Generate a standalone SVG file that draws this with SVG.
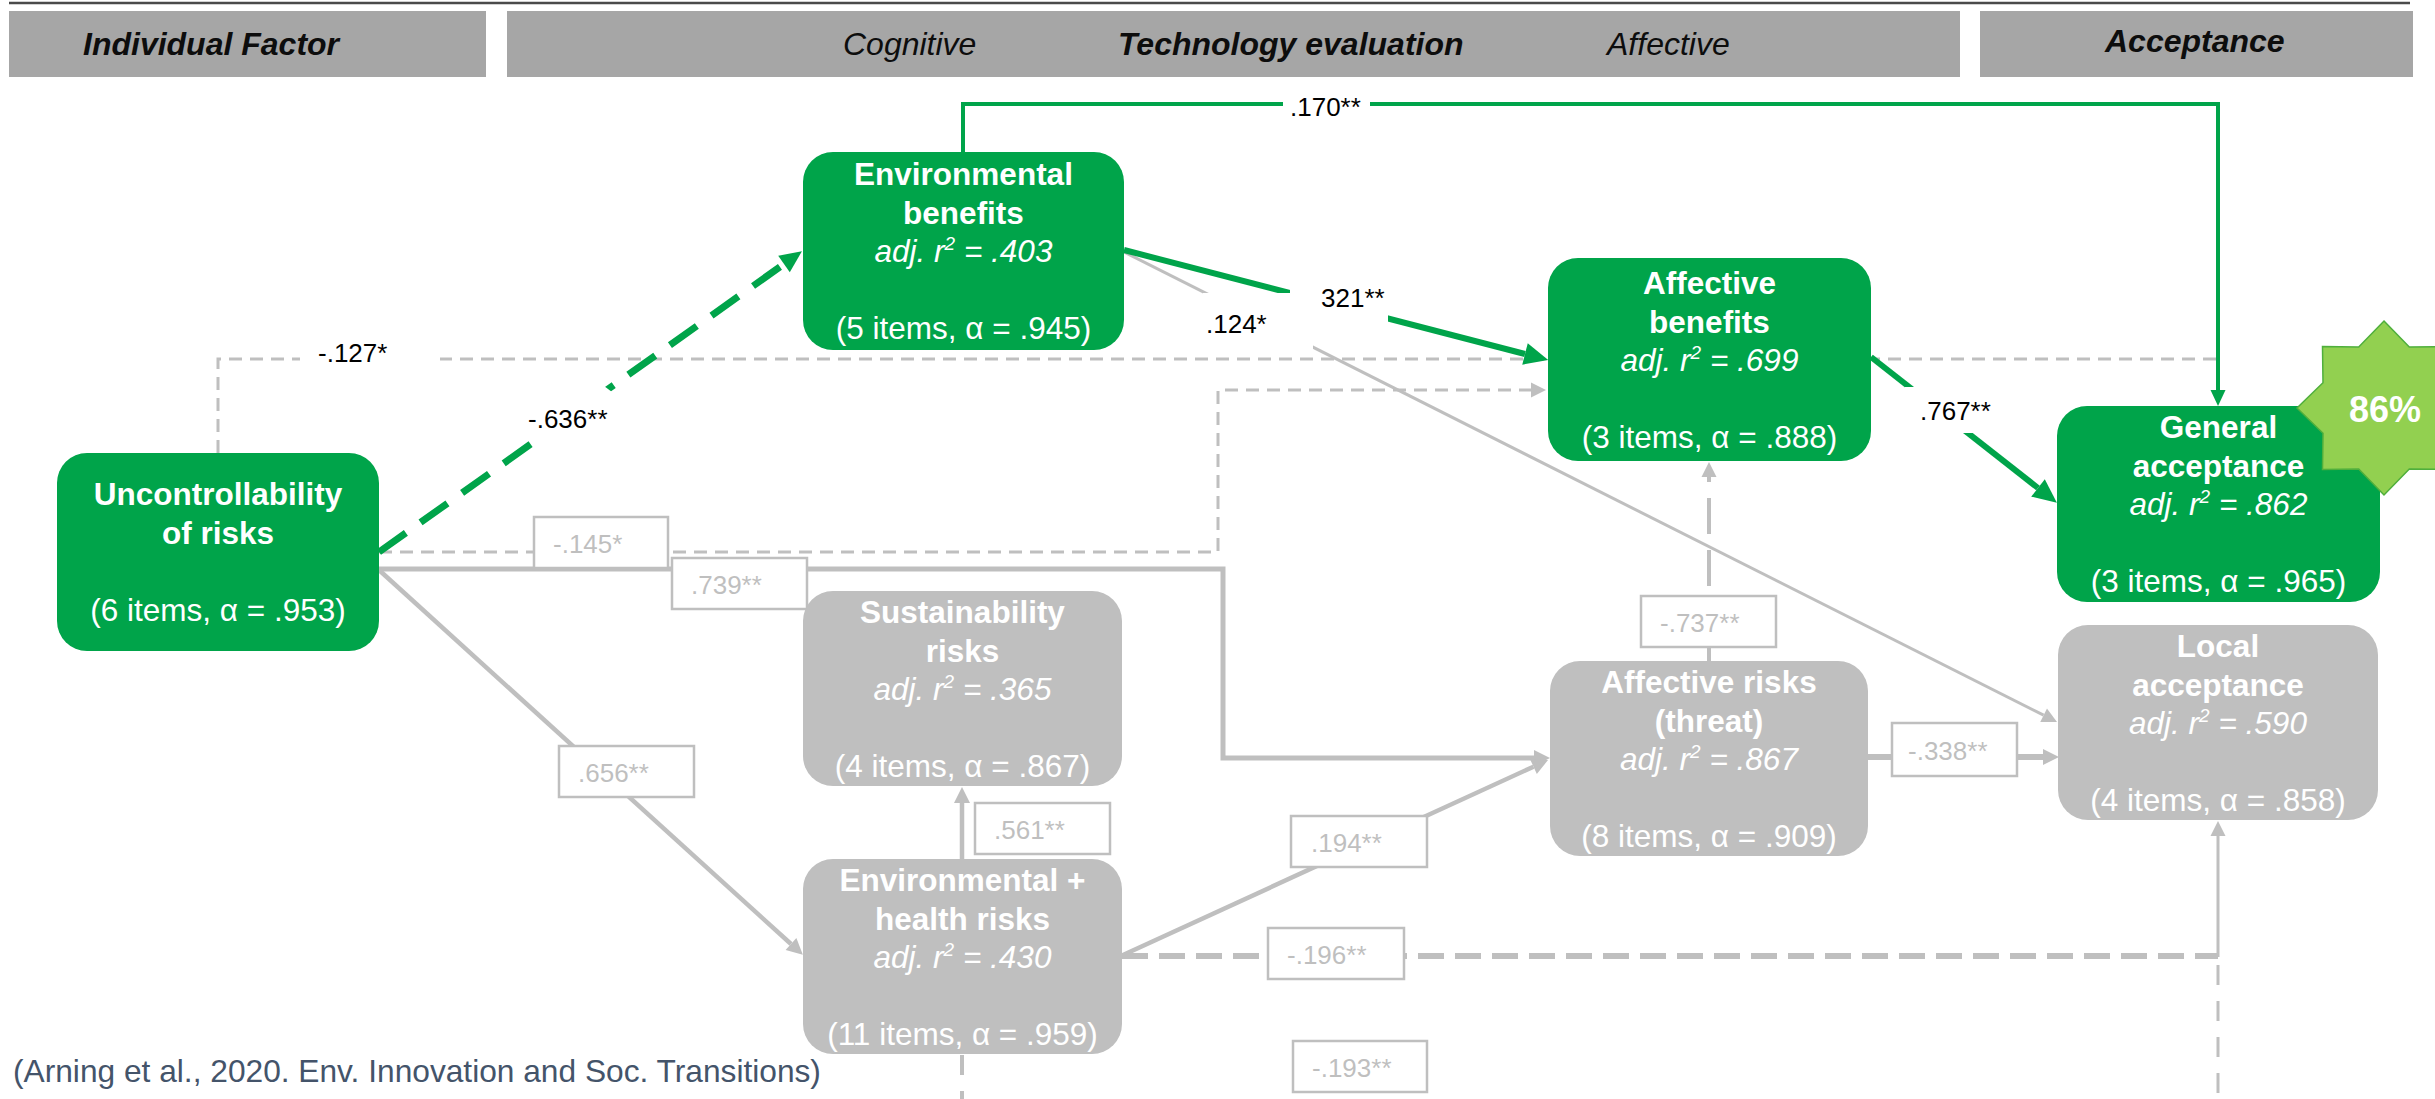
<svg xmlns="http://www.w3.org/2000/svg" width="2435" height="1099" viewBox="0 0 2435 1099">
<defs>
  <style>
    text { font-family: "Liberation Sans", Arial, sans-serif; }
    .bar { fill: #A6A6A6; }
    .ht { font-size: 32px; fill: #0D0D0D; font-style: italic; }
    .b { font-weight: bold; }
    .ng { fill: #00A44A; }
    .nx { fill: #BFBFBF; }
    .nt { font-size: 31.5px; fill: #FFFFFF; text-anchor: middle; }
    .t { font-weight: bold; }
    .r { font-style: italic; }
    .sup { font-size: 19px; }
    .lbl { font-size: 26px; fill: #000000; }
    .lbox { fill: #FFFFFF; stroke: #BFBFBF; stroke-width: 2.5; }
    .ltx { font-size: 26px; fill: #BFBFBF; }
    .cg { stroke: #00A44A; fill: none; }
    .cx { stroke: #BFBFBF; fill: none; }
    .gap { fill: #FFFFFF; }
  </style>
  <marker id="ahG" markerUnits="userSpaceOnUse" markerWidth="24" markerHeight="22" refX="0" refY="11" orient="auto" overflow="visible">
    <path d="M0,0 L24,11 L0,22 z" fill="#00A44A"/>
  </marker>
  <marker id="ahGd" markerUnits="userSpaceOnUse" markerWidth="22" markerHeight="20" refX="0" refY="10" orient="auto" overflow="visible">
    <path d="M0,0 L22,10 L0,20 z" fill="#00A44A"/>
  </marker>
  <marker id="ahGs" markerUnits="userSpaceOnUse" markerWidth="16" markerHeight="15" refX="0" refY="7.5" orient="auto" overflow="visible">
    <path d="M0,0 L16,7.5 L0,15 z" fill="#00A44A"/>
  </marker>
  <marker id="ahX" markerUnits="userSpaceOnUse" markerWidth="15" markerHeight="15" refX="0" refY="7.5" orient="auto" overflow="visible">
    <path d="M0,0 L15,7.5 L0,15 z" fill="#BFBFBF"/>
  </marker>
  <marker id="ahXb" markerUnits="userSpaceOnUse" markerWidth="16" markerHeight="16" refX="0" refY="8" orient="auto" overflow="visible">
    <path d="M0,0 L16,8 L0,16 z" fill="#BFBFBF"/>
  </marker>
</defs>

<rect x="0" y="0" width="2435" height="1099" fill="#FFFFFF"/>

<!-- header rule and column headers -->
<g id="header">
  <line x1="9" y1="3" x2="2410" y2="3" stroke="#4A4A4A" stroke-width="2.5"/>
  <rect class="bar" x="9" y="11" width="477" height="66"/>
  <rect class="bar" x="507" y="11" width="1453" height="66"/>
  <rect class="bar" x="1980" y="11" width="433" height="66"/>
  <text class="ht b" x="83" y="55">Individual Factor</text>
  <text class="ht" x="843" y="55">Cognitive</text>
  <text class="ht b" x="1118" y="55">Technology evaluation</text>
  <text class="ht" x="1607" y="55">Affective</text>
  <text class="ht b" x="2105" y="52">Acceptance</text>
</g>

<!-- paths between constructs -->
<g id="connectors">
  <!-- Uncontrollability -> General acceptance (-.127*) -->
  <path class="cx" d="M218,453 V359 H2218" stroke-width="3" stroke-dasharray="13 8"/>
  <!-- Uncontrollability -> Affective benefits (-.145*) -->
  <path class="cx" d="M379,552 H1218 V390 H1531" stroke-width="3" stroke-dasharray="13 8" marker-end="url(#ahX)"/>
  <!-- Uncontrollability -> Affective risks (.739**) -->
  <path class="cx" d="M379,569 H1223 V758 H1534" stroke-width="5" marker-end="url(#ahXb)"/>
  <!-- Uncontrollability -> Environmental + health risks (.656**) -->
  <path class="cx" d="M379,570 L791,944" stroke-width="4.5" marker-end="url(#ahXb)"/>
  <!-- Environmental + health risks -> Sustainability risks (.561**) -->
  <path class="cx" d="M962,859 V803" stroke-width="4.5" marker-end="url(#ahXb)"/>
  <!-- Environmental + health risks -> Affective risks (.194**) -->
  <path class="cx" d="M1123,955 L1533.5,766.7" stroke-width="4.5" marker-end="url(#ahXb)"/>
  <!-- Environmental + health risks -> Local acceptance (-.196**) -->
  <path class="cx" d="M1122,956 H2218" stroke-width="6" stroke-dasharray="26 11"/>
  <path class="cx" d="M2218,957 V836" stroke-width="3" marker-end="url(#ahX)"/>
  <!-- Environmental + health risks -> Local acceptance, lower route (-.193**) -->
  <path class="cx" d="M2218,965 V1099" stroke-width="3" stroke-dasharray="20 16"/>
  <path class="cx" d="M962,1055 V1099" stroke-width="4" stroke-dasharray="20 16"/>
  <!-- Affective risks -> Affective benefits (-.737**) -->
  <path class="cx" d="M1709,661 V646" stroke-width="4"/>
  <path class="cx" d="M1709,596 V477" stroke-width="4" stroke-dasharray="0 10 36 16 36 16 40" marker-end="url(#ahX)"/>
  <!-- Affective risks -> Local acceptance (-.338**) -->
  <path class="cx" d="M1868,757 H2043" stroke-width="6" marker-end="url(#ahXb)"/>
  <!-- Environmental benefits -> Local acceptance (.124*) -->
  <path class="cx" d="M1124,252 L2043.6,715.2" stroke-width="3" marker-end="url(#ahX)"/>
  <!-- Environmental benefits -> General acceptance (.170**) -->
  <path class="cg" d="M963,152 V104 H2218 V390" stroke-width="4" marker-end="url(#ahGs)"/>
  <!-- Uncontrollability -> Environmental benefits (-.636**) -->
  <path class="cg" d="M379,552 L784,264" stroke-width="7" stroke-dasharray="33 18" marker-end="url(#ahGd)"/>
  <!-- Environmental benefits -> Affective benefits (.321**) -->
  <path class="cg" d="M1124,250 L1525,354" stroke-width="6" marker-end="url(#ahG)"/>
  <!-- Affective benefits -> General acceptance (.767**) -->
  <path class="cg" d="M1871,357 L2038,488" stroke-width="6" marker-end="url(#ahG)"/>

  <!-- coefficient labels on significant paths -->
  <rect class="gap" x="1283" y="96" width="87" height="17"/>
  <text class="lbl" x="1290" y="116">.170**</text>
  <rect class="gap" x="300" y="350" width="140" height="17"/>
  <text class="lbl" x="318" y="362">-.127*</text>
  <polygon class="gap" points="532,446 540,446 612,392 604,386 532,438"/>
  <rect class="gap" x="532" y="392" width="76" height="54"/>
  <text class="lbl" x="528" y="428">-.636**</text>
  <rect class="gap" x="1203" y="293" width="110" height="59"/>
  <rect class="gap" x="1290" y="282" width="98" height="48"/>
  <text class="lbl" x="1206" y="333">.124*</text>
  <text class="lbl" x="1321" y="307">321**</text>
  <rect class="gap" x="1905" y="387" width="90" height="46"/>
  <text class="lbl" x="1920" y="420">.767**</text>

  <!-- coefficient labels on the remaining paths -->
  <rect class="lbox" x="534" y="517" width="134" height="51"/>
  <text class="ltx" x="553" y="553">-.145*</text>
  <rect class="lbox" x="672" y="558" width="135" height="51"/>
  <text class="ltx" x="691" y="594">.739**</text>
  <rect class="lbox" x="559" y="746" width="135" height="51"/>
  <text class="ltx" x="578" y="782">.656**</text>
  <rect class="lbox" x="975" y="803" width="135" height="51"/>
  <text class="ltx" x="994" y="839">.561**</text>
  <rect class="lbox" x="1291" y="816" width="136" height="51"/>
  <text class="ltx" x="1311" y="852">.194**</text>
  <rect class="lbox" x="1641" y="596" width="135" height="51"/>
  <text class="ltx" x="1660" y="632">-.737**</text>
  <rect class="lbox" x="1892" y="723" width="125" height="53"/>
  <text class="ltx" x="1908" y="760">-.338**</text>
  <rect class="lbox" x="1268" y="928" width="136" height="51"/>
  <text class="ltx" x="1287" y="964">-.196**</text>
  <rect class="lbox" x="1293" y="1041" width="134" height="51"/>
  <text class="ltx" x="1312" y="1077">-.193**</text>
</g>

<g id="n-uncontrollability">
  <rect class="ng" x="57" y="453" width="322" height="198" rx="30"/>
  <text class="nt"><tspan class="t" x="218" y="505">Uncontrollability</tspan><tspan class="t" x="218" y="544">of risks</tspan><tspan x="218" y="621">(6 items, α = .953)</tspan></text>
</g>

<g id="n-env-benefits">
  <rect class="ng" x="803" y="152" width="321" height="198" rx="30"/>
  <text class="nt"><tspan class="t" x="963.5" y="185">Environmental</tspan><tspan class="t" x="963.5" y="223.5">benefits</tspan><tspan class="r" x="963.5" y="262">adj. r<tspan class="sup" dy="-12">2</tspan><tspan dy="12"> = .403</tspan></tspan><tspan x="963.5" y="339">(5 items, α = .945)</tspan></text>
</g>

<g id="n-affective-benefits">
  <rect class="ng" x="1548" y="258" width="323" height="203" rx="30"/>
  <text class="nt"><tspan class="t" x="1709.5" y="294">Affective</tspan><tspan class="t" x="1709.5" y="332.5">benefits</tspan><tspan class="r" x="1709.5" y="371">adj. r<tspan class="sup" dy="-12">2</tspan><tspan dy="12"> = .699</tspan></tspan><tspan x="1709.5" y="448">(3 items, α = .888)</tspan></text>
</g>

<g id="n-general-acceptance">
  <rect class="ng" x="2057" y="406" width="323" height="196" rx="30"/>
  <text class="nt"><tspan class="t" x="2218.5" y="438">General</tspan><tspan class="t" x="2218.5" y="476.5">acceptance</tspan><tspan class="r" x="2218.5" y="515">adj. r<tspan class="sup" dy="-12">2</tspan><tspan dy="12"> = .862</tspan></tspan><tspan x="2218.5" y="592">(3 items, α = .965)</tspan></text>
</g>

<g id="n-local-acceptance">
  <rect class="nx" x="2058" y="625" width="320" height="195" rx="30"/>
  <text class="nt"><tspan class="t" x="2218" y="657">Local</tspan><tspan class="t" x="2218" y="695.5">acceptance</tspan><tspan class="r" x="2218" y="734">adj. r<tspan class="sup" dy="-12">2</tspan><tspan dy="12"> = .590</tspan></tspan><tspan x="2218" y="811">(4 items, α = .858)</tspan></text>
</g>

<g id="n-affective-risks">
  <rect class="nx" x="1550" y="661" width="318" height="195" rx="30"/>
  <text class="nt"><tspan class="t" x="1709" y="693">Affective risks</tspan><tspan class="t" x="1709" y="731.5">(threat)</tspan><tspan class="r" x="1709" y="770">adj. r<tspan class="sup" dy="-12">2</tspan><tspan dy="12"> = .867</tspan></tspan><tspan x="1709" y="847">(8 items, α = .909)</tspan></text>
</g>

<g id="n-sustainability-risks">
  <rect class="nx" x="803" y="591" width="319" height="195" rx="30"/>
  <text class="nt"><tspan class="t" x="962.5" y="623">Sustainability</tspan><tspan class="t" x="962.5" y="661.5">risks</tspan><tspan class="r" x="962.5" y="700">adj. r<tspan class="sup" dy="-12">2</tspan><tspan dy="12"> = .365</tspan></tspan><tspan x="962.5" y="777">(4 items, α = .867)</tspan></text>
</g>

<g id="n-env-health-risks">
  <rect class="nx" x="803" y="859" width="319" height="195" rx="30"/>
  <text class="nt"><tspan class="t" x="962.5" y="891">Environmental +</tspan><tspan class="t" x="962.5" y="929.5">health risks</tspan><tspan class="r" x="962.5" y="968">adj. r<tspan class="sup" dy="-12">2</tspan><tspan dy="12"> = .430</tspan></tspan><tspan x="962.5" y="1045">(11 items, α = .959)</tspan></text>
</g>

<!-- explained-variance badge -->
<g id="badge-86">
  <polygon points="2384,321 2409.3,347 2445.5,346.5 2445,382.7 2471,408 2445,433.3 2445.5,469.5 2409.3,469 2384,495 2358.7,469 2322.5,469.5 2323,433.3 2297,408 2323,382.7 2322.5,346.5 2358.7,347" fill="#92D050" stroke="#4FAF3C" stroke-width="1.5"/>
  <text x="2385" y="422" font-size="36" font-weight="bold" fill="#FFFFFF" text-anchor="middle">86%</text>
</g>

<text x="13" y="1082" font-size="31.7" fill="#44546A">(Arning et al., 2020. Env. Innovation and Soc. Transitions)</text>
</svg>
